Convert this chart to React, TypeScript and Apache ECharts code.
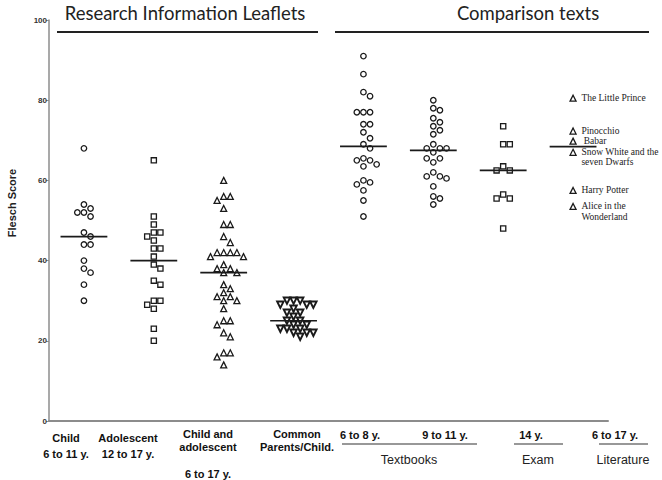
import React, { useEffect, useRef } from "react";
import * as echarts from "echarts";

// ---- data ----
const groupNames = [
  "Child",
  "Adolescent",
  "Child and adolescent",
  "Common Parents/Child.",
  "Textbooks 6 to 8 y.",
  "Textbooks 9 to 11 y.",
  "Exam 14 y.",
  "Literature 6 to 17 y.",
];
const child = [68, 54, 53, 52, 52, 51, 47, 46, 44, 44, 40, 38, 37, 34, 30];
const adolescent = [65, 51, 49, 47, 47, 46, 45, 43, 43, 41, 39, 38, 35, 34, 30, 30, 29, 28, 23, 20];
const childAdolescent = [
  60, 56, 56, 55, 53, 49, 49, 46, 44.5, 42, 42, 42, 42, 41, 41, 39, 38, 38, 37, 37, 34, 33, 32, 31,
  31, 30, 30, 28, 25, 25, 24, 22, 21, 17, 17, 16, 14,
];
const common = [30, 30, 30, 29, 29, 29, 28, 27, 27, 26, 25, 25, 24, 24, 23, 23, 23, 22, 22, 22, 21];
const textbooks6to8 = [
  91, 86.5, 82, 81, 77, 77, 77, 74, 74, 72, 70.5, 69, 68, 65.5, 65, 65, 64, 63.5, 60, 59.5, 59, 57.5,
  55, 51,
];
const textbooks9to11 = [
  80, 78, 77.5, 75.5, 74.5, 73.5, 72.5, 71.5, 69, 68, 68, 68, 67, 65.5, 65.5, 64.5, 62, 61, 61, 60.5,
  58.5, 56, 55.5, 54,
];
const exam = [73.5, 69, 69, 63.5, 62.5, 62.5, 56.5, 55.5, 55.5, 48];
const literature = [80.5, 72.3, 69.8, 67, 57.5, 53.5];
const literatureTitles = [
  "The Little Prince",
  "Pinocchio",
  " Babar",
  "Snow White and the\nseven Dwarfs",
  "Harry Potter",
  "Alice in the\nWonderland",
];

const yTicks = [0, 20, 40, 60, 80, 100];
const yAxisName = "Flesch Score";
const sectionTitles = ["Research Information Leaflets", "Comparison texts"];
const categoryLabels = [
  "Child\n6 to 11 y.",
  "Adolescent\n12 to 17 y.",
  "Child and\nadolescent\n\n6 to 17 y.",
  "Common\nParents/Child.",
  "6 to 8 y.",
  "9 to 11 y.",
  "14 y.",
  "6 to 17 y.",
];
const subGroupLabels = ["Textbooks", "Exam", "Literature"];

// ---- layout (styles / positions) ----
const W = 662;
const H = 480;
const GRID = { left: 49, right: 54, top: 20, bottom: 59 };
const PX = (W - GRID.left - GRID.right) / 8; // px per category
const PY = (H - GRID.top - GRID.bottom) / 100; // px per unit
const catLabelPos: [number, number][] = [
  [66, 436],
  [128, 436],
  [208, 433],
  [297, 433],
  [360, 434],
  [445, 434],
  [531, 434],
  [615, 434],
];
const catLineHeights = [16, 16, 13.3, 13, 14, 14, 14, 14];
const subGroupPos: [number, number][] = [
  [409, 460],
  [538, 460],
  [623, 460],
];
const subGroupLines: [number, number][] = [
  [342, 477],
  [514, 563],
  [599, 648],
];

function swarm(values: number[], center: number): number[][] {
  const D = 6.6;
  const placed: { x: number; y: number }[] = [];
  const order = values.map((_, i) => i).sort((a, b) => values[b] - values[a]);
  const out: number[][] = new Array(values.length);
  for (const i of order) {
    const py = values[i] * PY;
    let done = false;
    for (let k = 0; !done && k < 20; k++) {
      const cands = k === 0 ? [0] : [k, -k];
      for (const c of cands) {
        const px = c * D;
        if (placed.every((p) => (p.x - px) ** 2 + (p.y - py) ** 2 >= (D * 0.97) ** 2)) {
          placed.push({ x: px, y: py });
          out[i] = [center + px / PX, values[i]];
          done = true;
          break;
        }
      }
    }
  }
  return out;
}

function median(v: number[]): number {
  const s = [...v].sort((a, b) => a - b);
  const n = s.length;
  return n % 2 ? s[(n - 1) / 2] : (s[n / 2 - 1] + s[n / 2]) / 2;
}

const groups = [child, adolescent, childAdolescent, common, textbooks6to8, textbooks9to11, exam, literature];
const symbols = ["circle", "rect", "triangle", "triangle", "circle", "circle", "rect", "triangle"];
const rotations = [0, 0, 0, 180, 0, 0, 0, 0];
const sizes = [5.5, 5.2, 6, 6.5, 5.5, 5.5, 5.2, 6];

export default function App() {
  const ref = useRef<HTMLDivElement>(null);
  useEffect(() => {
    if (!ref.current) return;
    const chart = echarts.init(ref.current, undefined, { renderer: "svg" });
    const ink = "#1a1a1a";
    const scatterSeries: any[] = groups.map((g, gi) => ({
      type: "scatter",
      name: groupNames[gi],
      data: swarm(g, gi),
      symbol: symbols[gi],
      symbolRotate: rotations[gi],
      symbolSize: sizes[gi],
      itemStyle: {
        color: "#ffffff",
        borderColor: ink,
        borderWidth: gi === 3 ? 1.9 : 1.3,
        opacity: 1,
      },
      label:
        gi === 7
          ? {
              show: true,
              position: [12, -2],
              align: "left",
              verticalAlign: "top",
              formatter: (p: any) => literatureTitles[p.dataIndex],
              fontFamily: "Liberation Serif, serif",
              fontSize: 9.5,
              lineHeight: 10.5,
              color: "#222",
            }
          : { show: false },
      z: 2,
    }));
    const medians = groups.map((g, i) => [i, median(g)]);
    const medianSeries = {
      type: "custom",
      name: "median",
      data: medians,
      z: 3,
      renderItem: (params: any, api: any) => {
        const i = api.value(0);
        const m = api.value(1);
        const p1 = api.coord([i - 0.335, m]);
        const p2 = api.coord([i + 0.335, m]);
        return {
          type: "line",
          shape: { x1: p1[0], y1: p1[1], x2: p2[0], y2: p2[1] },
          style: { stroke: ink, lineWidth: 1.7 },
        };
      },
    };

    const bold11 = "bold 11px 'Liberation Sans', Arial, sans-serif";
    const graphic: any[] = [];
    // section titles and rules
    graphic.push({
      type: "text",
      x: 185,
      y: 13,
      style: {
        text: sectionTitles[0],
        font: "18.5px Lato, sans-serif",
        fill: "#222",
        textAlign: "center",
        textVerticalAlign: "middle",
      },
    });
    graphic.push({
      type: "text",
      x: 528,
      y: 13,
      style: {
        text: sectionTitles[1],
        font: "18.5px Lato, sans-serif",
        fill: "#222",
        textAlign: "center",
        textVerticalAlign: "middle",
      },
    });
    graphic.push({
      type: "line",
      shape: { x1: 57, y1: 32, x2: 318, y2: 32 },
      style: { stroke: "#222", lineWidth: 2 },
    });
    graphic.push({
      type: "line",
      shape: { x1: 335, y1: 32, x2: 649, y2: 32 },
      style: { stroke: "#222", lineWidth: 2 },
    });
    // y-axis name
    graphic.push({
      type: "text",
      x: 12,
      y: 203,
      rotation: Math.PI / 2,
      style: {
        text: yAxisName,
        font: bold11,
        fill: "#222",
        textAlign: "center",
        textVerticalAlign: "middle",
      },
    });
    // category labels
    categoryLabels.forEach((t, i) => {
      graphic.push({
        type: "text",
        x: catLabelPos[i][0],
        y: catLabelPos[i][1] - 6,
        style: {
          text: t,
          font: bold11,
          lineHeight: catLineHeights[i],
          fill: "#111",
          textAlign: "center",
          textVerticalAlign: "top",
        },
      });
    });
    subGroupLabels.forEach((t, i) => {
      graphic.push({
        type: "text",
        x: subGroupPos[i][0],
        y: subGroupPos[i][1],
        style: {
          text: t,
          font: "12.5px 'Liberation Sans', Arial, sans-serif",
          fill: "#222",
          textAlign: "center",
          textVerticalAlign: "middle",
        },
      });
      graphic.push({
        type: "line",
        shape: { x1: subGroupLines[i][0], y1: 444, x2: subGroupLines[i][1], y2: 444 },
        style: { stroke: "#333", lineWidth: 1.2 },
      });
    });

    chart.setOption({
      animation: false,
      backgroundColor: "#ffffff",
      grid: GRID,
      xAxis: {
        type: "value",
        min: -0.5,
        max: 7.5,
        axisLine: { show: true, onZero: false, lineStyle: { color: "#8c8c8c", width: 2 } },
        axisTick: { show: false },
        axisLabel: { show: false },
        splitLine: { show: false },
      },
      yAxis: {
        type: "value",
        min: yTicks[0],
        max: yTicks[yTicks.length - 1],
        interval: 20,
        axisLine: { show: true, onZero: false, lineStyle: { color: "#8c8c8c", width: 1.5 } },
        axisTick: { show: true, length: 3, lineStyle: { color: "#8c8c8c", width: 1 } },
        axisLabel: {
          fontSize: 8,
          fontWeight: "bold",
          fontFamily: "'Liberation Sans', Arial, sans-serif",
          color: "#333",
          margin: 2,
        },
        splitLine: { show: false },
      },
      series: [...scatterSeries, medianSeries],
      graphic,
    });
    return () => chart.dispose();
  }, []);
  return (
    <div
      ref={ref}
      style={{ position: "fixed", left: 0, top: 0, width: W, height: H, background: "#fff" }}
    />
  );
}
